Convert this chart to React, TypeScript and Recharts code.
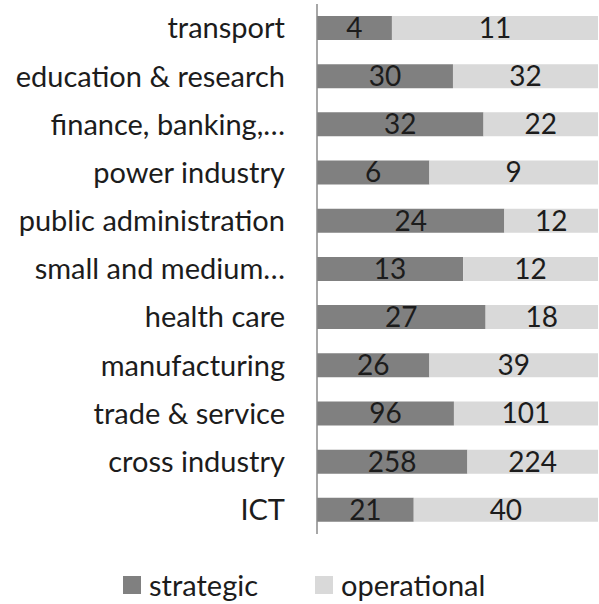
import { BarChart, Bar, XAxis, YAxis, Legend, LabelList } from "recharts";

const categories = [
  "transport",
  "education & research",
  "finance, banking,…",
  "power industry",
  "public administration",
  "small and medium…",
  "health care",
  "manufacturing",
  "trade & service",
  "cross industry",
  "ICT",
];
const strategic = [4, 30, 32, 6, 24, 13, 27, 26, 96, 258, 21];
const operational = [11, 32, 22, 9, 12, 12, 18, 39, 101, 224, 40];
const seriesOrder = ["strategic", "operational"];

const data = categories.map((name, i) => ({
  name,
  strategic: strategic[i],
  operational: operational[i],
}));

const FONT = "Lato, 'Open Sans', sans-serif";
const TEXT = "#1c1c1c";
const DARK = "#808080";
const LIGHT = "#d9d9d9";

// legend in series order (the default sorter would put it alphabetically)
function ShareLegend({ payload }: any) {
  const items = seriesOrder
    .map((key) => (payload || []).find((p: any) => p.dataKey === key || p.value === key))
    .filter(Boolean);
  return (
    <div style={{ display: "flex", paddingLeft: 123, fontFamily: FONT, fontSize: 29, color: TEXT }}>
      {items.map((item: any, i: number) => (
        <div
          key={item.value}
          style={{ display: "flex", alignItems: "center", marginRight: i === 0 ? 57 : 0 }}
        >
          <span style={{ width: 18, height: 18, background: item.color, marginRight: 8 }} />
          <span>{item.value}</span>
        </div>
      ))}
    </div>
  );
}

export default function App() {
  return (
    <div style={{ position: "absolute", left: 0, top: 0, background: "#fff" }}>
      <BarChart
        width={599}
        height={604}
        data={data}
        layout="vertical"
        stackOffset="expand"
        barSize={24}
        margin={{ top: 4, right: 1, bottom: 70, left: 0 }}
      >
        <XAxis type="number" height={0} tick={false} axisLine={false} tickLine={false} />
        <YAxis
          type="category"
          dataKey="name"
          width={317}
          axisLine={{ stroke: "#8a8a8a", strokeWidth: 1.5 }}
          tickLine={false}
          tickMargin={26}
          interval={0}
          tick={{ fontFamily: FONT, fontSize: 29, fill: TEXT }}
        />
        <Legend
          verticalAlign="middle"
          align="center"
          content={<ShareLegend />}
          wrapperStyle={{ left: 0, width: 599, top: 567 }}
        />
        <Bar dataKey="strategic" stackId="a" fill={DARK} isAnimationActive={false}>
          <LabelList
            dataKey="strategic"
            position="center"
            fill={TEXT}
            style={{ fontFamily: FONT, fontSize: 28 }}
          />
        </Bar>
        <Bar dataKey="operational" stackId="a" fill={LIGHT} isAnimationActive={false}>
          <LabelList
            dataKey="operational"
            position="center"
            fill={TEXT}
            style={{ fontFamily: FONT, fontSize: 28 }}
          />
        </Bar>
      </BarChart>
    </div>
  );
}
